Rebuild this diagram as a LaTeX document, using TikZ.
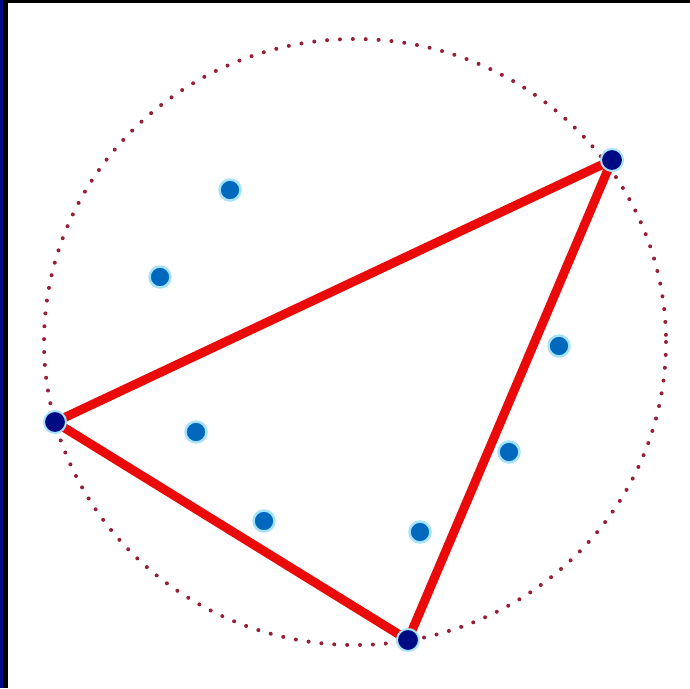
\documentclass[tikz,border=0pt]{standalone}
\usepackage{tikz}
\usetikzlibrary{backgrounds}
\definecolor{navyblue}{RGB}{0,10,130}
\definecolor{ptblue}{RGB}{0,105,190}
\definecolor{hullred}{RGB}{150,30,55}
\definecolor{edgered}{RGB}{235,10,10}
\tikzset{
  inpt/.style   = {circle, fill=ptblue, draw=cyan!35, line width=2.5pt,
                   inner sep=0pt, minimum size=21pt},
  hullpt/.style = {circle, fill=navyblue, draw=cyan!35, line width=2pt,
                   inner sep=0pt, minimum size=22pt},
  tri/.style    = {draw=edgered, line width=9pt, line join=round},
  circ/.style   = {draw=hullred, line width=4pt, line cap=round,
                   dash pattern=on 0pt off 12.9pt},
}

\begin{document}
\begin{tikzpicture}[x=1pt, y=-1pt]

\useasboundingbox (0,0) rectangle (690,688);

%% ── Hull points ───────────────────────────────────────────
\node[hullpt] (pa) at (612,160) {};
\node[hullpt] (pb) at (55,422)  {};
\node[hullpt] (pc) at (408,640) {};

%% ── Inner points ──────────────────────────────────────────
\node[inpt] (q1) at (230,190) {};
\node[inpt] (q2) at (160,277) {};
\node[inpt] (q3) at (196,432) {};
\node[inpt] (q4) at (264,521) {};
\node[inpt] (q5) at (420,532) {};
\node[inpt] (q6) at (509,452) {};
\node[inpt] (q7) at (559,346) {};

\coordinate (ctr) at (355,342);

\begin{scope}[on background layer]
  %% ── Frame ───────────────────────────────────────────────
  \fill[white] (0,0) rectangle (690,688);
  \fill[black] (0,0) rectangle (690,3);
  \fill[navyblue] (0,0) rectangle (3,688);
  \fill[black] (3,0) rectangle (8,688);

  %% ── Enclosing circle ────────────────────────────────────
  \draw[circ] (ctr) ellipse [x radius=311, y radius=303];

  %% ── Triangle ────────────────────────────────────────────
  \draw[tri] (pa.center) -- (pb.center) -- (pc.center) -- cycle;
\end{scope}

\end{tikzpicture}
\end{document}
